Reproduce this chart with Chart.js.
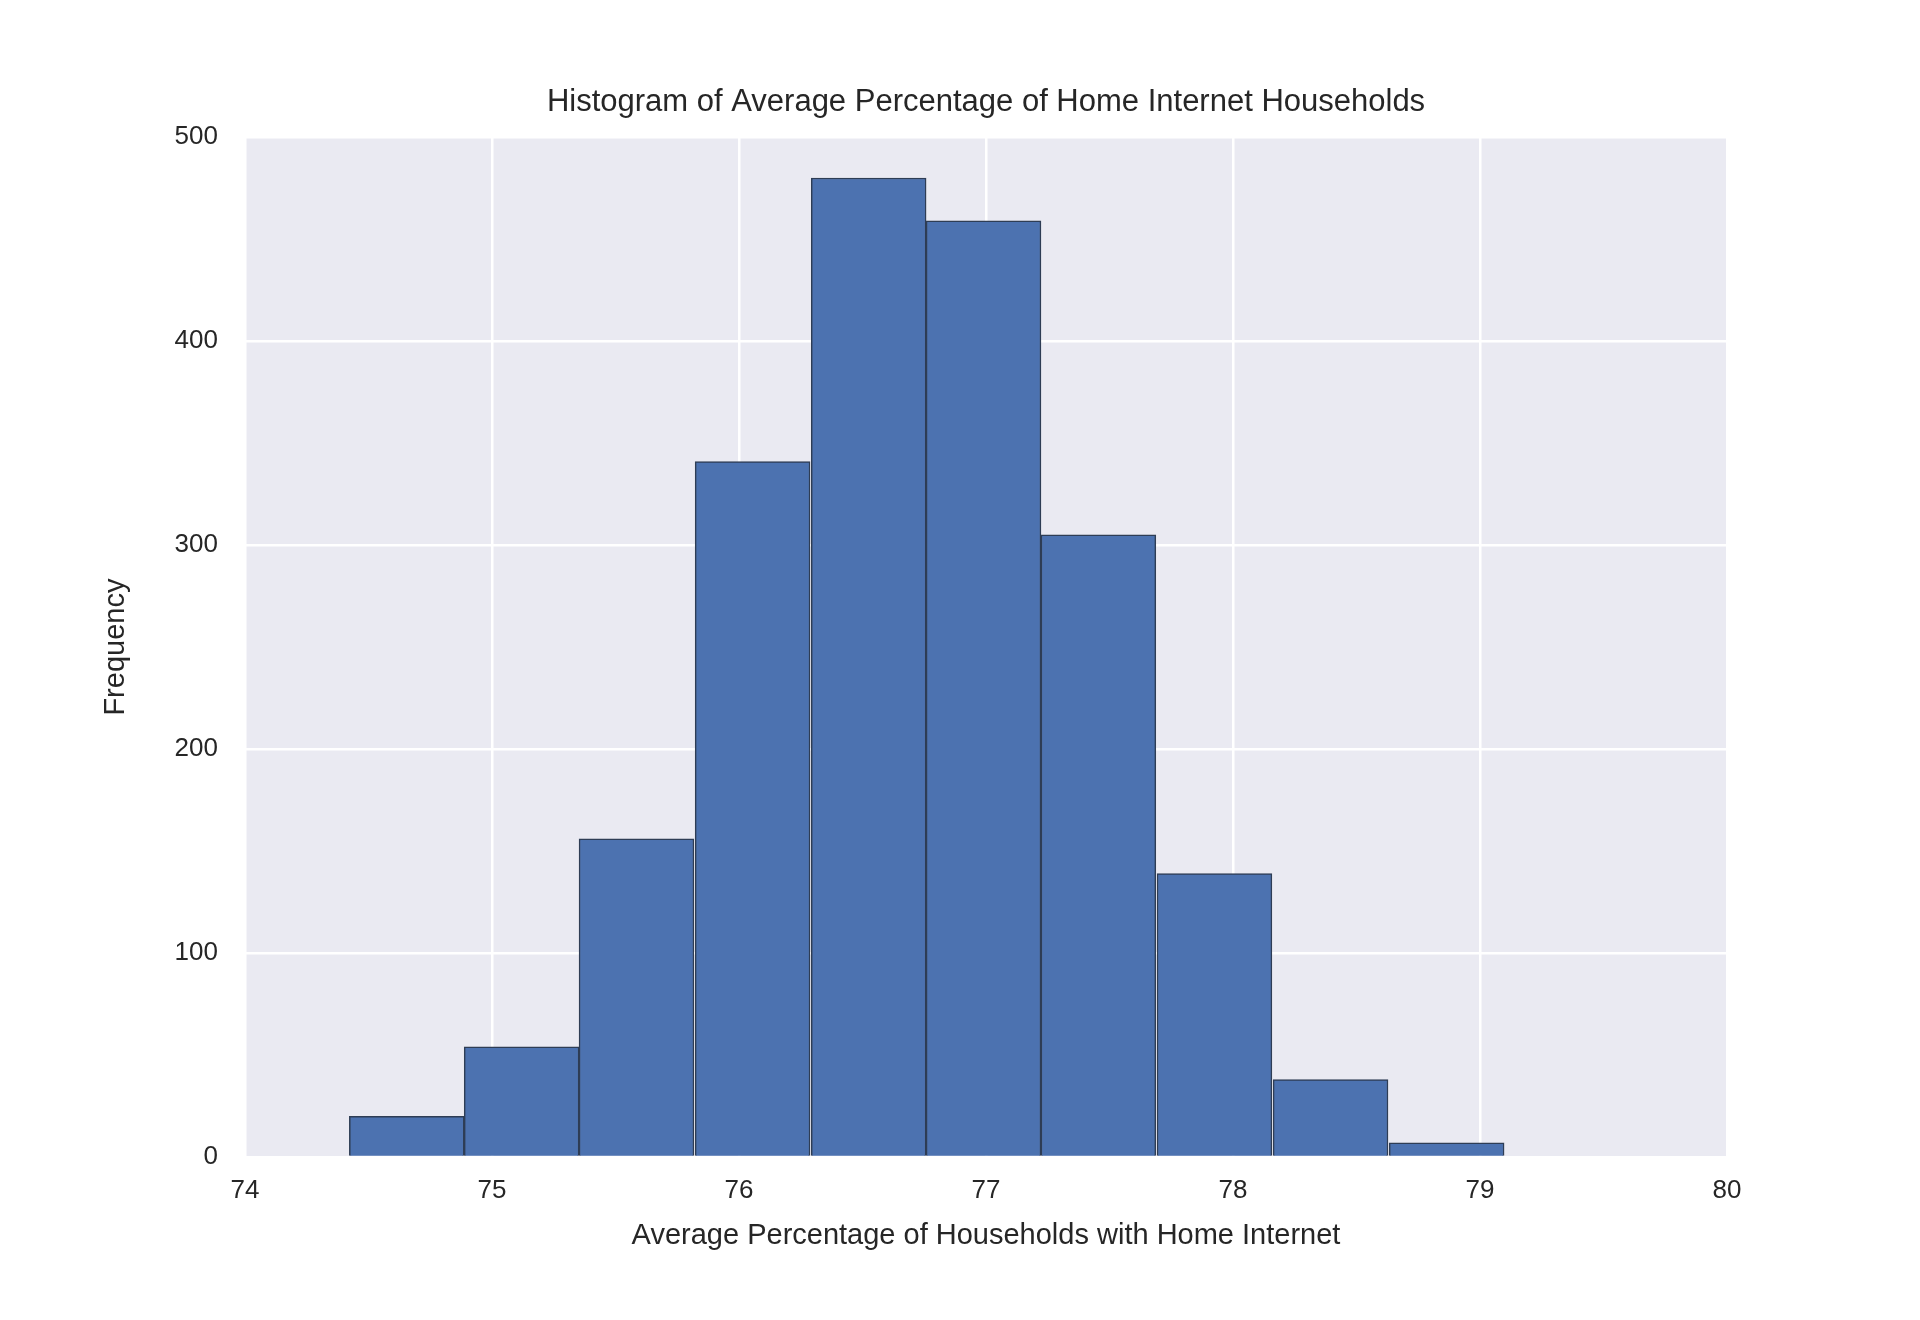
<!DOCTYPE html>
<html>
<head>
<meta charset="utf-8">
<script src="https://cdn.jsdelivr.net/npm/chart.js@4"></script>
<style>
  html, body { margin: 0; background: #fff; }
  #wrap { width: 1920px; height: 1320px; }
</style>
</head>
<body>
<div id="wrap"><canvas id="hist"></canvas></div>
<script>
// histogram bin edges and counts
const binEdges = [74.42, 74.89, 75.35, 75.82, 76.29, 76.76, 77.22, 77.69, 78.16, 78.63, 79.10];
const counts = [20, 54, 156, 341, 480, 459, 305, 139, 38, 7];
const xTicks = [74, 75, 76, 77, 78, 79, 80];
const yTicks = [0, 100, 200, 300, 400, 500];

const points = counts.map((c, i) => ({ x: (binEdges[i] + binEdges[i + 1]) / 2, y: c }));
const font = 'Arial, "Liberation Sans", sans-serif';

// grey plot background like seaborn darkgrid
const bgPlugin = {
  id: 'bg',
  beforeDraw(chart) {
    const { ctx, chartArea: a } = chart;
    ctx.save();
    ctx.fillStyle = '#EAEAF2';
    ctx.fillRect(a.left, a.top, a.right - a.left, a.bottom - a.top);
    ctx.restore();
  }
};

new Chart(document.getElementById('hist'), {
  type: 'bar',
  data: {
    datasets: [{
      data: points,
      backgroundColor: '#4C72B0',
      borderColor: '#2E3D55',
      borderWidth: 1.5,
      barPercentage: 1,
      categoryPercentage: 1,
      grouped: false
    }]
  },
  options: {
    responsive: true,
    maintainAspectRatio: false,
    animation: false,
    layout: { padding: { left: 95, right: 193, top: 0, bottom: 63 } },
    plugins: {
      legend: { display: false },
      tooltip: { enabled: false },
      title: {
        display: true,
        fullSize: false,
        text: 'Histogram of Average Percentage of Home Internet Households',
        color: '#262626',
        font: { family: font, size: 31, weight: 'normal' },
        padding: { top: 84, bottom: 16 }
      }
    },
    scales: {
      x: {
        type: 'linear',
        min: 74, max: 80,
        offset: false,
        afterBuildTicks: s => { s.ticks = xTicks.map(v => ({ value: v })); },
        afterFit: s => { s.height = 100; },
        grid: { color: '#fff', lineWidth: 2.5, drawTicks: false, offset: false },
        border: { display: false },
        ticks: { color: '#262626', font: { family: font, size: 26 }, padding: 18 },
        title: {
          display: true,
          text: 'Average Percentage of Households with Home Internet',
          color: '#262626',
          font: { family: font, size: 29 },
          padding: { top: 6 }
        }
      },
      y: {
        min: 0, max: 500,
        afterBuildTicks: s => { s.ticks = yTicks.map(v => ({ value: v })); },
        afterFit: s => { s.width = 150; },
        grid: { color: '#fff', lineWidth: 2.5, drawTicks: false },
        border: { display: false },
        ticks: { color: '#262626', font: { family: font, size: 26 }, padding: 27 },
        title: {
          display: true,
          text: 'Frequency',
          color: '#262626',
          font: { family: font, size: 29 },
          padding: { bottom: 6 }
        }
      }
    }
  },
  plugins: [bgPlugin]
});
</script>
</body>
</html>
